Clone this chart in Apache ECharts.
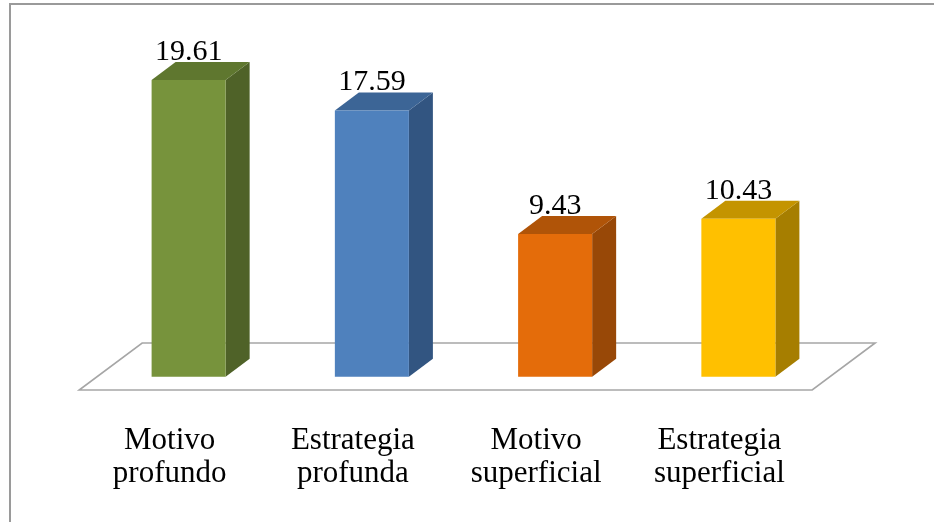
<!DOCTYPE html>
<html><head><meta charset="utf-8">
<script src="https://cdn.jsdelivr.net/npm/echarts@6/dist/echarts.min.js"></script>
<style>html,body{margin:0;padding:0;background:#fff}#c{width:934px;height:522px}</style>
</head><body><div id="c"></div>
<script>
const categories = ['Motivo\nprofundo', 'Estrategia\nprofunda', 'Motivo\nsuperficial', 'Estrategia\nsuperficial'];
const values = [19.61, 17.59, 9.43, 10.43];
const frontColors = ['#77933C', '#4F81BD', '#E46C0A', '#FFC000'];
const sideColors = ['#4F6228', '#325581', '#984807', '#A67E00'];
const topColors = ['#5F772F', '#3C6596', '#B05408', '#C49400'];

const chart = echarts.init(document.getElementById('c'), null, {renderer: 'canvas'});
const SERIF = '"Liberation Serif", "Times New Roman", serif';

function renderBar(params, api) {
  const i = api.value(0), v = api.value(1);
  const base = api.coord([i, 0]);
  const top = api.coord([i, v]);
  const band = api.size([1, 0])[0];
  const w = band * 0.404, dx = band * 0.131, dy = dx * 0.75;
  const xl = base[0] - w / 2, xr = base[0] + w / 2, yb = base[1], yt = top[1];
  return {
    type: 'group',
    children: [
      {type: 'polygon', shape: {points: [[xr, yb], [xr + dx, yb - dy], [xr + dx, yt - dy], [xr, yt]]}, style: {fill: sideColors[i]}},
      {type: 'polygon', shape: {points: [[xl, yt], [xr, yt], [xr + dx, yt - dy], [xl + dx, yt - dy]]}, style: {fill: topColors[i]}},
      {type: 'rect', shape: {x: xl, y: yt, width: w, height: yb - yt}, style: {fill: frontColors[i]}},
      {type: 'text', x: base[0], y: yt - 28, z2: 10, style: {text: v.toFixed(2), font: '30px ' + SERIF, fill: '#000', align: 'center', verticalAlign: 'middle'}}
    ]
  };
}

function renderFloor(params, api) {
  const cs = params.coordSys;
  const yb = cs.y + cs.height;
  const k = 1.34, fr = 13.3, bk = 33.7;
  const pts = [
    [cs.x - fr * k, yb + fr],
    [cs.x + cs.width - fr * k, yb + fr],
    [cs.x + cs.width + bk * k, yb - bk],
    [cs.x + bk * k, yb - bk]
  ];
  return {type: 'polygon', shape: {points: pts}, style: {fill: '#fff', stroke: '#A6A6A6', lineWidth: 1.6}};
}

chart.setOption({
  animation: false,
  backgroundColor: '#fff',
  grid: {left: 97, right: 104, top: 74, bottom: 145.3},
  xAxis: {
    type: 'category', data: categories,
    axisLine: {show: false}, axisTick: {show: false}, splitLine: {show: false},
    axisLabel: {fontFamily: SERIF, fontSize: 31, color: '#000', lineHeight: 33, margin: 48, padding: [0, 38, 0, 0], interval: 0}
  },
  yAxis: {type: 'value', min: 0, max: 20, show: false},
  graphic: [
    {type: 'polyline', shape: {points: [[10, 523], [10, 4], [935, 4]]}, style: {stroke: '#9A9A9A', lineWidth: 2, fill: null}}
  ],
  series: [
    {type: 'custom', z: 1, renderItem: renderFloor, data: [[0, 0]], encode: {x: 0, y: 1}, silent: true},
    {type: 'custom', z: 2, renderItem: renderBar, data: values.map((v, i) => [i, v]), encode: {x: 0, y: 1}}
  ]
});
</script></body></html>
